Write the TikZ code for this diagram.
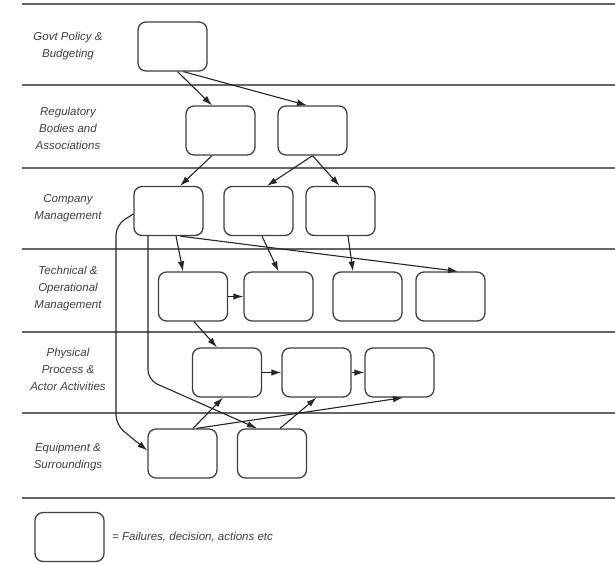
\documentclass[tikz,border=0pt]{standalone}
\usepackage{fontspec}
\setmainfont{Liberation Sans}
\usetikzlibrary{arrows.meta}
\tikzset{
  evt/.style={draw=black!75, line width=1.3pt, rounded corners=8pt, fill=white,
              minimum width=69pt, minimum height=49pt, inner sep=0pt},
  lanelabel/.style={align=center, text=black!75, font=\itshape\fontsize{11.5}{17}\selectfont},
  rule/.style={draw=black!60, line width=2pt},
  flow/.style={draw=black!85, line width=1.1pt, -{Latex[length=10pt,width=6.5pt]}},
}
\begin{document}
\begin{tikzpicture}[x=1pt, y=-1pt]
\useasboundingbox (0,0) rectangle (615,563);

% lane separators
\foreach \yy [count=\i] in {4,85,168,249,332,413,498}
  \draw[rule] (22,\yy) -- (615,\yy);

% lane titles
\node[lanelabel] (l1) at (68,46)  {Govt Policy \&\\Budgeting};
\node[lanelabel] (l2) at (68,128) {Regulatory\\Bodies and\\Associations};
\node[lanelabel] (l3) at (68,208) {Company\\Management};
\node[lanelabel] (l4) at (68,289) {Technical \&\\Operational\\Management};
\node[lanelabel] (l5) at (68,369) {Physical\\Process \&\\Actor Activities};
\node[lanelabel] (l6) at (68,457) {Equipment \&\\Surroundings};

% event boxes
\node[evt] (g)  at (172.5,46.5)  {};
\node[evt] (r1) at (220.5,130.5) {};
\node[evt] (r2) at (312.5,130.5) {};
\node[evt] (c1) at (168.5,211)   {};
\node[evt] (c2) at (258.5,211)   {};
\node[evt] (c3) at (340.5,211)   {};
\node[evt] (t1) at (193,296.5)   {};
\node[evt] (t2) at (278.5,296.5) {};
\node[evt] (t3) at (367.5,296.5) {};
\node[evt] (t4) at (450.5,296.5) {};
\node[evt] (p1) at (227,372.5)   {};
\node[evt] (p2) at (316.5,372.5) {};
\node[evt] (p3) at (399.5,372.5) {};
\node[evt] (e1) at (182.5,453.5) {};
\node[evt] (e2) at (272,453.5)   {};

% legend
\node[evt] (key) at (69.5,537) {};
\node[anchor=west, text=black!75, font=\itshape\fontsize{11.5}{14}\selectfont]
  (keytxt) at ([xshift=4pt]key.east) {= Failures, decision, actions etc};

% bend points of the long links
\coordinate (b1) at (116,225);
\coordinate (b2) at (116,425);
\coordinate (b3) at (148,380);

% links between lanes
\draw[flow] ([xshift=5pt]g.south)    -- ([xshift=-8.5pt]r1.north);
\draw[flow] ([xshift=11pt]g.south)   -- ([xshift=-5.5pt]r2.north);
\draw[flow] ([xshift=-8.5pt]r1.south) -- ([xshift=11.5pt]c1.north);
\draw[flow] (r2.south) -- ([xshift=8.5pt]c2.north);
\draw[flow] (r2.south) -- ([xshift=-1pt]c3.north);
\draw[flow] ([xshift=7.5pt]c1.south) -- ([xshift=-10pt]t1.north);
\draw[flow] ([xshift=12pt]c1.south)  -- ([xshift=7.5pt]t4.north);
\draw[flow] ([xshift=3.5pt]c2.south) -- (t2.north);
\draw[flow] ([xshift=7.5pt]c3.south) -- ([xshift=-14.5pt]t3.north);
\draw[flow] (t1.east) -- (t2.west);
\draw[flow] ([xshift=1pt]t1.south)   -- ([xshift=-10pt]p1.north);
\draw[flow] (p1.east) -- (p2.west);
\draw[flow] (p2.east) -- (p3.west);
\draw[flow, rounded corners=10pt] ([yshift=-3pt]c1.west) -- (b1) -- (b2) -- ([yshift=3pt]e1.west);
\draw[flow, rounded corners=10pt] ([xshift=-20.5pt]c1.south) -- (b3) -- ([xshift=-15pt]e2.north);
\draw[flow] ([xshift=10.5pt]e1.north) -- ([xshift=-4pt]p1.south);
\draw[flow] ([xshift=14pt]e1.north)   -- ([xshift=3.5pt]p3.south);
\draw[flow] ([xshift=8pt]e2.north)    -- (p2.south);
\end{tikzpicture}
\end{document}
